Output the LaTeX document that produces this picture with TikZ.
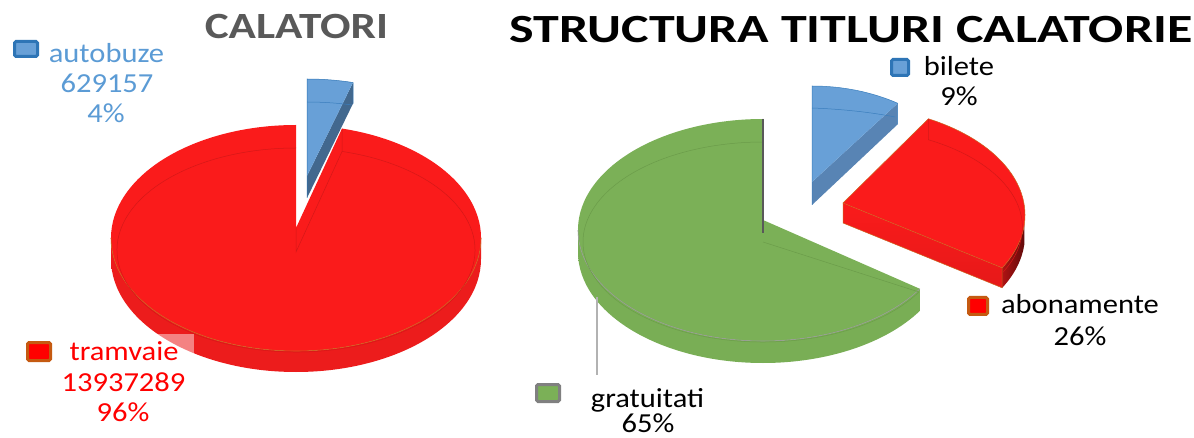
\documentclass[tikz,border=0pt]{standalone}
\usepackage{fontspec}
\setmainfont{Carlito}
\usetikzlibrary{calc}
\definecolor{pred}{RGB}{250,27,27}
\definecolor{predd}{RGB}{165,20,20}
\definecolor{predr}{RGB}{140,15,15}
\definecolor{predm}{RGB}{236,28,28}
\definecolor{pblue}{RGB}{104,160,215}
\definecolor{pbluedk}{RGB}{66,104,142}
\definecolor{pbluesd}{RGB}{88,132,180}
\definecolor{pgreen}{RGB}{123,176,87}
\definecolor{pgreend}{RGB}{100,148,68}
\definecolor{pgreenm}{RGB}{121,174,85}
\definecolor{edgeor}{RGB}{205,100,30}
\definecolor{ttlgray}{RGB}{89,89,89}
\definecolor{lblblue}{RGB}{91,155,213}
\definecolor{mkblue}{RGB}{46,117,182}
\definecolor{mkorange}{RGB}{197,90,17}
\definecolor{mkgray}{RGB}{128,128,128}
\definecolor{lblred}{RGB}{255,0,0}
\pgfdeclarehorizontalshading{redside}{100bp}{color(0bp)=(predd); color(18bp)=(predm); color(80bp)=(predm); color(100bp)=(predr)}
\pgfdeclarehorizontalshading{greenside}{100bp}{color(0bp)=(pgreend); color(15bp)=(pgreenm); color(85bp)=(pgreenm); color(100bp)=(pgreend)}
\tikzset{
  lbl/.style={font=\fontsize{27.5}{30}\selectfont, xscale=1.11, inner sep=0pt, anchor=base},
  ttl/.style={font=\fontsize{37}{40}\selectfont\bfseries, xscale=1.22, inner sep=0pt, anchor=base},
  legmark/.style={draw, line width=3pt, rounded corners=1.5pt, inner sep=0pt},
  fineline/.style={line width=0.6pt},
}
\begin{document}
\begin{tikzpicture}[x=1pt,y=-1pt]
\useasboundingbox (0,0) rectangle (1194,438);
\fill[white] (0,0) rectangle (1194,438);

% ===== LEFT PIE =====
% red side
\shade[shading=redside]
  ($(296,238)+(0:185 and 113)$) arc[start angle=0,end angle=180,x radius=185,y radius=113]
  -- ++(0,21) arc[start angle=180,end angle=0,x radius=185,y radius=113] -- cycle;
% red top
\fill[pred] (296,228) -- ($(296,238)+(-75.6:185 and 113)$)
  arc[start angle=-75.6,end angle=270,x radius=185,y radius=113] -- cycle;
\draw[edgeor,fineline] ($(296,238)+(0:185 and 113)$) arc[start angle=0,end angle=180,x radius=185,y radius=113];
\draw[predd!45!pred,line width=0.5pt] ($(296,250)+(-75.1:179 and 102)$)
  arc[start angle=-75.1,end angle=270,x radius=179,y radius=102];
\draw[predd!45!pred,line width=0.5pt] ($(296,238)+(-75.6:185 and 113)$) -- ++(0,23) -- (296,252) -- (296,228);
% blue slice
\fill[pbluedk] ($(307,192)+(-75.6:185 and 113)$) -- ++(0,21) -- (307,198) -- (307,176) -- cycle;
\fill[pblue] (307,176) -- (307,79) arc[start angle=-90,end angle=-75.6,x radius=185,y radius=113] -- cycle;
\draw[mkblue!80!pblue,line width=0.5pt] (307,102) .. controls (322,102) and (338,103) .. (352,105);
\draw[mkblue,line width=0.5pt] (307,198) -- (307,79) arc[start angle=-90,end angle=-75.6,x radius=185,y radius=113] -- ++(0,21);
% translucent label patch
\fill[white,opacity=0.45] (157,334) rectangle (194,355);

% ===== RIGHT PIE =====
% green side
\shade[shading=greenside]
  ($(763,230)+(32:185 and 111)$) arc[start angle=32,end angle=180,x radius=185,y radius=111]
  -- ++(0,22) arc[start angle=180,end angle=32,x radius=185,y radius=111] -- cycle;
% green top
\fill[pgreen] (763,220) -- ($(763,230)+(32:185 and 111)$)
  arc[start angle=32,end angle=270,x radius=185,y radius=111] -- cycle;
\draw[gray!80,fineline] ($(763,230)+(32:185 and 111)$) arc[start angle=32,end angle=180,x radius=185,y radius=111];
\draw[pgreend!70!pgreen,line width=0.5pt] (763,242) -- ($(763,242)+(30:180 and 100)$)
  arc[start angle=30,end angle=270,x radius=180,y radius=100];
\draw[black!65,line width=1.2pt] (763,119) -- (763,233);
% leader line
\coordinate (lt) at (597,297);
\coordinate (lb) at (597,375);
\draw[gray!60,line width=1.2pt] (lt) -- (lb);

% red slice
\shade[top color=pred, bottom color=pred!92!black]
  (843,203) -- ($(843,215)+(29:182 and 109)$) -- ++(0,20) -- (843,223) -- cycle;
\shade[left color=pred!70!black, right color=predr!70!black]
  ($(843,215)+(5:182 and 109)$) arc[start angle=5,end angle=29,x radius=182,y radius=109]
  -- ++(0,20) arc[start angle=29,end angle=5,x radius=182,y radius=109] -- cycle;
\fill[pred] (843,203) -- ($(843,215)+(-62:182 and 109)$)
  arc[start angle=-62,end angle=29,x radius=182,y radius=109] -- cycle;
\draw[edgeor,line width=0.5pt] (843,203) -- ($(843,215)+(-62:182 and 109)$)
  arc[start angle=-62,end angle=29,x radius=182,y radius=109] -- cycle;
\draw[edgeor,line width=0.5pt] (843,203) -- (843,223) -- ($(843,215)+(29:182 and 109)+(0,20)$) -- ++(0,-20);
\draw[predd!45!pred,line width=0.5pt] ($(843,215)+(-62:182 and 109)$) -- ++(0,21)
  arc[start angle=-62,end angle=27,x radius=177,y radius=99];

% blue slice right
\fill[pbluesd] ($(812,197)+(-57.6:160 and 111)$) -- ++(0,21) -- (812,205) -- (812,182) -- cycle;
\fill[pblue] (812,182) -- (812,86) arc[start angle=-90,end angle=-57.6,x radius=160,y radius=111] -- cycle;
\draw[mkblue!80!pblue,line width=0.5pt] (812,108) .. controls (840,109) and (870,112) .. (895,117);
\draw[mkblue!80!pblue,line width=0.5pt] (812,205) -- (812,86) arc[start angle=-90,end angle=-57.6,x radius=160,y radius=111] -- ++(0,21);

% ===== TITLES =====
\node[ttl,text=ttlgray] (t1) at (296.5,39) {CALATORI};
\node[ttl,text=black,font=\fontsize{40}{44}\selectfont\bfseries,xscale=1.065] (t2) at (851,43) {STRUCTURA TITLURI CALATORIE};

% ===== LEGENDS / LABELS =====
\node[legmark,draw=mkblue,fill=pblue,minimum width=23pt,minimum height=15pt] (m1) at (26,49) {};
\node[lbl,text=lblblue] (l1a) at (106.5,63) {autobuze};
\node[lbl,text=lblblue] (l1b) at (107,93) {629157};
\node[lbl,text=lblblue] (l1c) at (106,123) {4\%};

\node[legmark,draw=mkorange,fill=lblred,minimum width=23pt,minimum height=18pt] (m2) at (39,351.5) {};
\node[lbl,text=lblred] (l2a) at (124,360) {tramvaie};
\node[lbl,text=lblred] (l2b) at (123.5,391) {13937289};
\node[lbl,text=lblred] (l2c) at (123,421) {96\%};

\node[legmark,draw=mkblue,fill=pblue,minimum width=17pt,minimum height=16pt] (m3) at (900,67.5) {};
\node[lbl,text=black] (l3a) at (959,76) {bilete};
\node[lbl,text=black] (l3b) at (959,106) {9\%};

\node[legmark,draw=mkorange,fill=lblred,minimum width=19pt,minimum height=17pt] (m4) at (978,306) {};
\node[lbl,text=black] (l4a) at (1080,313) {abonamente};
\node[lbl,text=black] (l4b) at (1080,345) {26\%};

\node[legmark,draw=mkgray,fill=pgreen,minimum width=23pt,minimum height=17pt] (m5) at (548,393) {};
\node[lbl,text=black] (l5a) at (647.5,407) {gratuitati};
\node[lbl,text=black] (l5b) at (648,432.5) {65\%};
\end{tikzpicture}
\end{document}
